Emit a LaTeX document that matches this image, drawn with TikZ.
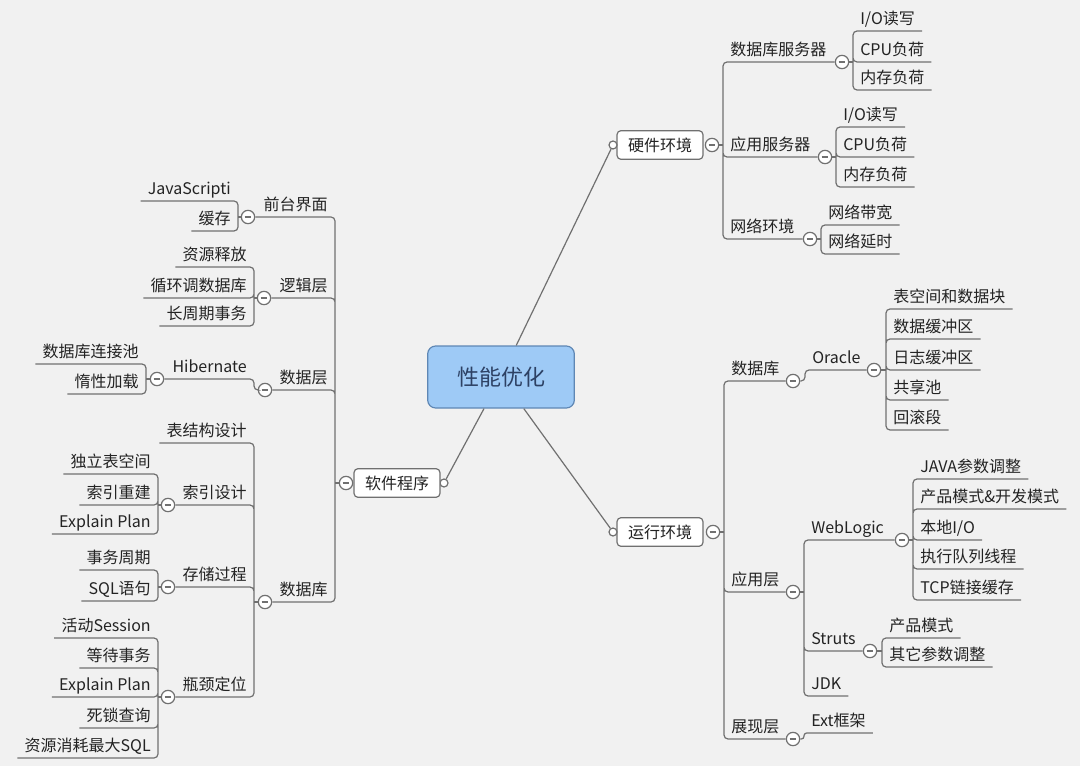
\documentclass[tikz,border=0pt]{standalone}
\usepackage{fontspec}
\setmainfont{Noto Sans CJK SC}
\usetikzlibrary{positioning}
\definecolor{bgc}{RGB}{241,241,241}
\definecolor{linec}{RGB}{112,112,112}
\definecolor{txtc}{RGB}{35,35,35}
\definecolor{rootfill}{RGB}{158,202,246}
\definecolor{rootline}{RGB}{95,135,180}
\definecolor{roottxt}{RGB}{45,65,100}

\begin{document}
\begin{tikzpicture}[x=0.75pt, y=-0.75pt, line width=0.9pt,
  topic/.style={draw=none, inner xsep=5pt, inner ysep=1.25pt, text height=9pt, text depth=3.5pt, text=txtc, font=\fontsize{12}{14}\selectfont},
  rt/.style={topic, anchor=south west},
  lt/.style={topic, anchor=south east},
  box/.style={draw=linec, fill=white, rounded corners=3pt, inner sep=0pt, minimum width=64.5pt, minimum height=21.5pt, text=txtc, font=\fontsize{12}{14}\selectfont},
  root/.style={draw=rootline, fill=rootfill, rounded corners=6pt, minimum width=110pt, minimum height=46.5pt, text=roottxt, font=\fontsize{16.5}{20}\selectfont},
  dot/.style={circle, draw=linec, fill=white, inner sep=0pt, minimum size=6pt},
  fold/.style={circle, draw=linec, fill=white, inner sep=0pt, minimum size=10pt,
    path picture={\draw[linec, line width=1pt] ([xshift=-2.5pt]path picture bounding box.center) -- ([xshift=2.5pt]path picture bounding box.center);}},
  link/.style={draw=linec, rounded corners=3pt}]
  \fill[bgc] (0,0) rectangle (1080,766);
  \useasboundingbox (0,0) rectangle (1080,766);

  \draw (501,377) node[root] (root) {性能优化};

  \draw (660,145) node[box] (hw) {硬件环境};
  \draw (613,145) node[dot] (hwdot) {};
  \draw (712,145) node[fold] (hwf) {};
  \draw (444,483) node[dot] (swdot) {};
  \draw (397,483) node[box] (sw) {软件程序};
  \draw (346,483) node[fold] (swf) {};
  \draw (660,532) node[box] (run) {运行环境};
  \draw (613,532) node[dot] (rundot) {};
  \draw (713,532) node[fold] (runf) {};

  \draw[linec] (root) -- (hwdot)
               (root) -- (swdot)
               (root) -- (rundot);

  \draw (723,62) node[rt] (dbsrv) {数据库服务器};
  \draw (842,62) node[fold] (fdbsrv) {};
  \draw (853,31) node[rt] (dbio) {I/O读写};
  \draw (853,62) node[rt] (dbcpu) {CPU负荷};
  \draw (853,90) node[rt] (dbmem) {内存负荷};
  \draw (723,157) node[rt] (appsrv) {应用服务器};
  \draw (825,157) node[fold] (fappsrv) {};
  \draw (836,127) node[rt] (apio) {I/O读写};
  \draw (836,157) node[rt] (apcpu) {CPU负荷};
  \draw (836,187) node[rt] (apmem) {内存负荷};
  \draw (723,239) node[rt] (netenv) {网络环境};
  \draw (810,239) node[fold] (fnetenv) {};
  \draw (821,225) node[rt] (band) {网络带宽};
  \draw (821,254) node[rt] (delay) {网络延时};

  \draw[link] (hwf) -- (723,145);
  \draw[link] (723,145) -- (dbsrv.south west) -- (fdbsrv)
              (723,145) -- (appsrv.south west) -- (fappsrv)
              (723,145) -- (netenv.south west) -- (fnetenv);
  \draw[link] (fdbsrv) -- (853,62) (fappsrv) -- (836,157) (fnetenv) -- (821,239);
  \draw[link] (853,62) -- (dbio.south west) -- (dbio.south east)
              (853,62) -- (dbcpu.south west) -- (dbcpu.south east)
              (853,62) -- (dbmem.south west) -- (dbmem.south east);
  \draw[link] (836,157) -- (apio.south west) -- (apio.south east)
              (836,157) -- (apcpu.south west) -- (apcpu.south east)
              (836,157) -- (apmem.south west) -- (apmem.south east);
  \draw[link] (821,239) -- (band.south west) -- (band.south east)
              (821,239) -- (delay.south west) -- (delay.south east);

  \draw (335,217) node[lt] (front) {前台界面};
  \draw (248,217) node[fold] (ffront) {};
  \draw (238,201) node[lt] (js) {JavaScripti};
  \draw (238,231) node[lt] (cache) {缓存};
  \draw (335,298) node[lt] (logic) {逻辑层};
  \draw (264,298) node[fold] (flogic) {};
  \draw (254,267) node[lt] (release) {资源释放};
  \draw (254,298) node[lt] (loopdb) {循环调数据库};
  \draw (254,326) node[lt] (longtx) {长周期事务};
  \draw (335,390) node[lt] (dao) {数据层};
  \draw (265,390) node[fold] (fdao) {};
  \draw (254,379) node[lt] (hib) {Hibernate};
  \draw (157,379) node[fold] (fhib) {};
  \draw (146,364) node[lt] (pool) {数据库连接池};
  \draw (146,394) node[lt] (lazy) {惰性加载};
  \draw (335,602) node[lt] (swdb) {数据库};
  \draw (265,602) node[fold] (fswdb) {};
  \draw (254,443) node[lt] (table) {表结构设计};
  \draw (254,505) node[lt] (index) {索引设计};
  \draw (168,505) node[fold] (findex) {};
  \draw (158,474) node[lt] (tbspace) {独立表空间};
  \draw (158,505) node[lt] (rebuild) {索引重建};
  \draw (158,534) node[lt] (plana) {Explain Plan};
  \draw (254,587) node[lt] (proc) {存储过程};
  \draw (168,587) node[fold] (fproc) {};
  \draw (158,570) node[lt] (txcycle) {事务周期};
  \draw (158,601) node[lt] (sqlstmt) {SQL语句};
  \draw (254,697) node[lt] (neck) {瓶颈定位};
  \draw (168,697) node[fold] (fneck) {};
  \draw (158,638) node[lt] (session) {活动Session};
  \draw (158,668) node[lt] (waittx) {等待事务};
  \draw (158,697) node[lt] (planb) {Explain Plan};
  \draw (158,728) node[lt] (deadlock) {死锁查询};
  \draw (158,758) node[lt] (costsql) {资源消耗最大SQL};

  \draw[link] (swf) -- (335,483);
  \draw[link] (335,483) -- (front.south east) -- (ffront)
              (335,483) -- (logic.south east) -- (flogic)
              (335,483) -- (dao.south east) -- (fdao)
              (335,483) -- (swdb.south east) -- (fswdb);
  \draw[link] (ffront) -- (238,217) (flogic) -- (254,298) (fswdb) -- (254,602)
              (findex) -- (158,505) (fproc) -- (158,587) (fneck) -- (158,697)
              (fhib) -- (146,379);
  \draw[link] (fdao) -- (254,390) -- (hib.south east) -- (fhib);
  \draw[link] (238,217) -- (js.south east) -- (js.south west)
              (238,217) -- (cache.south east) -- (cache.south west);
  \draw[link] (254,298) -- (release.south east) -- (release.south west)
              (254,298) -- (loopdb.south east) -- (loopdb.south west)
              (254,298) -- (longtx.south east) -- (longtx.south west);
  \draw[link] (146,379) -- (pool.south east) -- (pool.south west)
              (146,379) -- (lazy.south east) -- (lazy.south west);
  \draw[link] (254,602) -- (table.south east) -- (table.south west)
              (254,602) -- (index.south east) -- (findex)
              (254,602) -- (proc.south east) -- (fproc)
              (254,602) -- (neck.south east) -- (fneck);
  \draw[link] (158,505) -- (tbspace.south east) -- (tbspace.south west)
              (158,505) -- (rebuild.south east) -- (rebuild.south west)
              (158,505) -- (plana.south east) -- (plana.south west);
  \draw[link] (158,587) -- (txcycle.south east) -- (txcycle.south west)
              (158,587) -- (sqlstmt.south east) -- (sqlstmt.south west);
  \draw[link] (158,697) -- (session.south east) -- (session.south west)
              (158,697) -- (waittx.south east) -- (waittx.south west)
              (158,697) -- (planb.south east) -- (planb.south west)
              (158,697) -- (deadlock.south east) -- (deadlock.south west)
              (158,697) -- (costsql.south east) -- (costsql.south west);

  \draw (724,381) node[rt] (rundb) {数据库};
  \draw (793,381) node[fold] (frundb) {};
  \draw (805,370) node[rt] (oracle) {Oracle};
  \draw (874,370) node[fold] (foracle) {};
  \draw (886,309) node[rt] (tbblock) {表空间和数据块};
  \draw (886,339) node[rt] (databuf) {数据缓冲区};
  \draw (886,370) node[rt] (logbuf) {日志缓冲区};
  \draw (886,400) node[rt] (shpool) {共享池};
  \draw (886,430) node[rt] (rollback) {回滚段};
  \draw (724,592) node[rt] (applayer) {应用层};
  \draw (793,592) node[fold] (fapplayer) {};
  \draw (804,540) node[rt] (weblogic) {WebLogic};
  \draw (902,540) node[fold] (fweblogic) {};
  \draw (913,479) node[rt] (javaarg) {JAVA参数调整};
  \draw (913,509) node[rt] (mode) {产品模式\&开发模式};
  \draw (913,540) node[rt] (localio) {本地I/O};
  \draw (913,569) node[rt] (queue) {执行队列线程};
  \draw (913,600) node[rt] (tcpbuf) {TCP链接缓存};
  \draw (804,651) node[rt] (struts) {Struts};
  \draw (870,651) node[fold] (fstruts) {};
  \draw (882,638) node[rt] (prodmode) {产品模式};
  \draw (882,667) node[rt] (otherarg) {其它参数调整};
  \draw (804,696) node[rt] (jdk) {JDK};
  \draw (724,739) node[rt] (view) {展现层};
  \draw (793,739) node[fold] (fview) {};
  \draw (804,733) node[rt] (ext) {Ext框架};

  \draw[link] (runf) -- (724,532);
  \draw[link] (724,532) -- (rundb.south west) -- (frundb)
              (724,532) -- (applayer.south west) -- (fapplayer)
              (724,532) -- (view.south west) -- (fview);
  \draw[link] (frundb) -- (805,381) -- (oracle.south west) -- (foracle);
  \draw[link, rounded corners=2pt] (fview) -- (804,739) -- (ext.south west) -- (ext.south east);
  \draw[link] (foracle) -- (886,370) (fapplayer) -- (804,592)
              (fweblogic) -- (913,540) (fstruts) -- (882,651);
  \draw[link] (886,370) -- (tbblock.south west) -- (tbblock.south east)
              (886,370) -- (databuf.south west) -- (databuf.south east)
              (886,370) -- (logbuf.south west) -- (logbuf.south east)
              (886,370) -- (shpool.south west) -- (shpool.south east)
              (886,370) -- (rollback.south west) -- (rollback.south east);
  \draw[link] (804,592) -- (weblogic.south west) -- (fweblogic)
              (804,592) -- (struts.south west) -- (fstruts)
              (804,592) -- (jdk.south west) -- (jdk.south east);
  \draw[link] (913,540) -- (javaarg.south west) -- (javaarg.south east)
              (913,540) -- (mode.south west) -- (mode.south east)
              (913,540) -- (localio.south west) -- (localio.south east)
              (913,540) -- (queue.south west) -- (queue.south east)
              (913,540) -- (tcpbuf.south west) -- (tcpbuf.south east);
  \draw[link] (882,651) -- (prodmode.south west) -- (prodmode.south east)
              (882,651) -- (otherarg.south west) -- (otherarg.south east);
\end{tikzpicture}
\end{document}
